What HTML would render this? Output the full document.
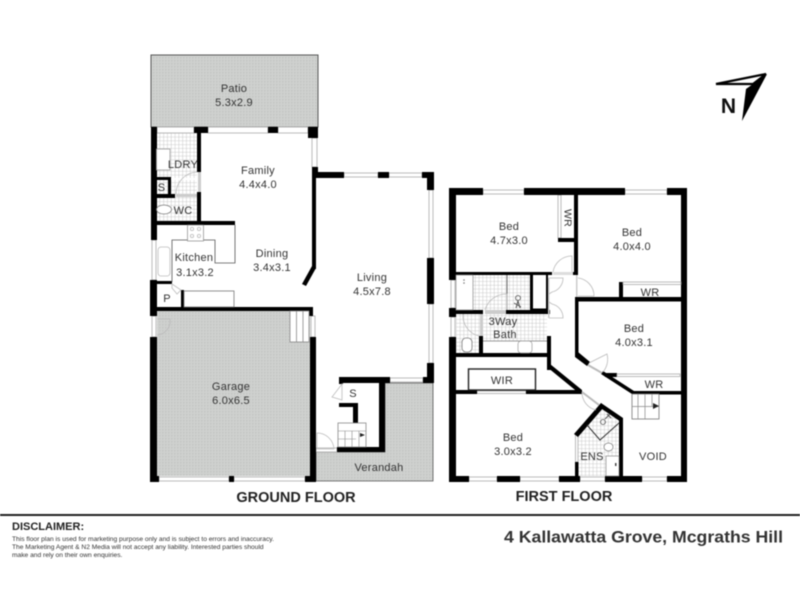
<!DOCTYPE html>
<html><head><meta charset="utf-8">
<style>
html,body{margin:0;padding:0;background:#fff}
svg{display:block;filter:blur(.45px)}
text{font-family:"Liberation Sans",sans-serif;fill:#333;font-size:11px;text-anchor:middle;letter-spacing:.25px}
.b{font-weight:bold;letter-spacing:0}
.w{fill:#000;stroke:none}
.l{fill:none;stroke:#555;stroke-width:.8}
.k{fill:none;stroke:#222;stroke-width:1.4}
.win{fill:#fff;stroke:#aaa;stroke-width:.8}
.d{fill:none;stroke:#bbb;stroke-width:.8}
</style></head><body>
<svg width="800" height="600" viewBox="0 0 800 600" xmlns="http://www.w3.org/2000/svg">
<defs>
<pattern id="g" width="3" height="3" patternUnits="userSpaceOnUse"><rect width="3" height="3" fill="#cfd1cf"/><rect width="1.5" height="1.5" fill="#c2c4c2"/></pattern>
<pattern id="t" width="3.8" height="3.8" patternUnits="userSpaceOnUse"><rect width="3.8" height="3.8" fill="#fff"/><path d="M0 0H3.8M0 0V3.8" stroke="#bdbdbd" stroke-width=".8"/></pattern>
</defs>
<rect width="800" height="600" fill="#fff"/>

<!-- GROUND FLOOR floors -->
<rect x="151" y="55" width="167" height="72" fill="url(#g)" stroke="#555" stroke-width="1"/>
<rect x="157" y="311" width="153" height="165" fill="url(#g)"/>
<path d="M316 452H385V383H433V481H316Z" fill="url(#g)" stroke="#555" stroke-width=".8"/>
<rect x="157" y="133" width="40" height="45" fill="url(#t)"/>
<rect x="157" y="180" width="40" height="42" fill="url(#t)"/>

<!-- ground windows -->
<rect x="157" y="127" width="37" height="6" class="win"/>
<rect x="208" y="127" width="60" height="6" class="win"/>
<rect x="278" y="127" width="30" height="6" class="win"/>
<rect x="312" y="138" width="5" height="29" class="win"/>
<rect x="344" y="173" width="34" height="4" class="win"/>
<rect x="389" y="173" width="33" height="4" class="win"/>
<rect x="429" y="190" width="4" height="68" class="win"/>
<rect x="429" y="304" width="4" height="59" class="win"/>
<rect x="152" y="240" width="4" height="40" class="win"/>
<rect x="152" y="316" width="4" height="21" class="win"/>
<rect x="311" y="316" width="4" height="21" class="win"/>
<rect x="390" y="378" width="33" height="4" class="win"/>
<rect x="159" y="477" width="70" height="4" class="win"/>
<rect x="234" y="477" width="71" height="4" class="win"/>
<rect x="316" y="448" width="21" height="4" class="win"/>
<rect x="198" y="172" width="3" height="20" fill="#ccc"/>
<rect x="176" y="194" width="21" height="3" fill="#ccc"/>

<!-- ground walls -->
<g class="w">
<rect x="151" y="127" width="6" height="113"/>
<rect x="150" y="280" width="7" height="36"/>
<rect x="150" y="337" width="7" height="145"/>
<rect x="194" y="127" width="14" height="6"/>
<rect x="268" y="127" width="10" height="6"/>
<rect x="308" y="127" width="10" height="11"/>
<rect x="197" y="133" width="4" height="39"/>
<rect x="197" y="192" width="4" height="30"/>
<rect x="312" y="167" width="6" height="11"/>
<rect x="312" y="172" width="32" height="6"/>
<rect x="378" y="172" width="11" height="6"/>
<rect x="422" y="172" width="12" height="6"/>
<rect x="427" y="172" width="7" height="18"/>
<rect x="427" y="258" width="7" height="46"/>
<rect x="427" y="363" width="7" height="20"/>
<rect x="423" y="377" width="11" height="6"/>
<rect x="312" y="178" width="4" height="91"/>
<path d="M312 266L316 268L306 286L302 284Z"/>
<rect x="157" y="177" width="14" height="3"/>
<rect x="168" y="177" width="3" height="20"/>
<rect x="157" y="194" width="18" height="4"/>
<rect x="157" y="221" width="78" height="4"/>
<rect x="150" y="281" width="22" height="3"/>
<rect x="181" y="290" width="3" height="17"/>
<rect x="150" y="307" width="163" height="4"/>
<rect x="309" y="307" width="4" height="9"/>
<rect x="310" y="337" width="6" height="145"/>
<rect x="150" y="476" width="9" height="6"/>
<rect x="229" y="476" width="5" height="6"/>
<rect x="305" y="476" width="11" height="6"/>
<rect x="339" y="377" width="51" height="6"/>
<rect x="339" y="377" width="4" height="7"/>
<rect x="379" y="377" width="6" height="75"/>
<rect x="337" y="447" width="48" height="5"/>
<rect x="312" y="447" width="4" height="5"/>
<rect x="339" y="403" width="19" height="4"/>
<rect x="353" y="403" width="5" height="20"/>
</g>

<!-- kitchen fittings -->
<path class="l" d="M235 225V263H215V240H172V282"/>
<rect x="187.500" y="225" width="16" height="16" fill="#fff" stroke="#888" stroke-width=".7"/>
<circle cx="192" cy="229" r="1.6" class="d"/><circle cx="199" cy="229" r="1.6" class="d"/><circle cx="192" cy="236" r="1.6" class="d"/><circle cx="199" cy="236" r="1.6" class="d"/>
<rect x="158" y="247" width="12" height="29" rx="3" class="d" fill="#fff"/>
<rect x="184" y="291" width="50" height="16" fill="#fff" stroke="#777" stroke-width=".8"/>
<path class="d" d="M172 284L181 290L177 294L172 288Z"/>
<rect x="156.500" y="149" width="13.500" height="21" fill="#fff" stroke="#999" stroke-width=".8"/>
<ellipse cx="164" cy="209.500" rx="7.500" ry="4.500" fill="#fff" stroke="#777" stroke-width=".8"/>
<path class="d" d="M197 172A22 22 0 0 0 176 194"/>
<path class="d" stroke="#eee" d="M157 319H170A14 14 0 0 1 157 335"/>

<!-- garage steps, ground stairs -->
<rect x="290" y="311" width="19" height="31" fill="#fff" stroke="#888" stroke-width=".8"/>
<path d="M296.500 311V342M303 311V342" stroke="#888" stroke-width=".8"/>
<rect x="338" y="423" width="28" height="24" fill="#fff" stroke="#888" stroke-width=".8"/>
<path d="M338 431H366M338 439H356M345 431V447M352 431V447M359 431V447" stroke="#888" stroke-width=".6" fill="none"/>
<path d="M360 433L365 435L360 437Z" fill="#222"/>
<path class="d" d="M342 384L332 397L342 400V384Z"/>
<path class="d" stroke="#999" d="M317 433A17 17 0 0 1 334 449H317Z"/>

<!-- FIRST FLOOR floors -->
<rect x="473" y="275" width="58" height="35" fill="url(#t)"/>
<rect x="456" y="314" width="91" height="27" fill="url(#t)"/>
<rect x="456" y="340" width="23" height="13" fill="url(#t)"/>
<path d="M600 407L620 421V476H578V436Z" fill="url(#t)"/>

<!-- first windows -->
<rect x="483" y="190" width="41" height="4" class="win"/>
<rect x="625" y="190" width="42" height="4" class="win"/>
<rect x="451" y="280" width="4" height="28" class="win"/>
<rect x="451" y="317" width="4" height="20" class="win"/>
<rect x="558" y="195" width="3" height="43" class="win"/>
<rect x="477" y="391" width="49" height="2.500" class="win"/>
<rect x="469" y="477" width="28" height="4" class="win"/>
<rect x="520" y="477" width="39" height="4" class="win"/>
<rect x="580" y="477" width="25" height="4" class="win"/>
<rect x="642" y="477" width="25" height="4" class="win"/>
<rect x="575.500" y="435" width="2.500" height="27" class="win"/>

<!-- first walls -->
<g class="w">
<rect x="449" y="188" width="34" height="7"/>
<rect x="524" y="188" width="101" height="7"/>
<rect x="667" y="188" width="20" height="7"/>
<rect x="449" y="188" width="7" height="92"/>
<rect x="449" y="308" width="7" height="9"/>
<rect x="449" y="337" width="7" height="145"/>
<rect x="681" y="188" width="6" height="294"/>
<rect x="449" y="476" width="20" height="6"/>
<rect x="497" y="476" width="23" height="6"/>
<rect x="559" y="476" width="21" height="6"/>
<rect x="605" y="476" width="37" height="6"/>
<rect x="667" y="476" width="20" height="6"/>
<rect x="574" y="195" width="4" height="78"/>
<rect x="558" y="238" width="18" height="4"/>
<rect x="456" y="272" width="96" height="3"/>
<rect x="573" y="272" width="5" height="3"/>
<rect x="530" y="275" width="3" height="35"/>
<rect x="546" y="275" width="2" height="39"/>
<rect x="449" y="310" width="34" height="4"/>
<rect x="506" y="310" width="44" height="4"/>
<rect x="479" y="336" width="4" height="21"/>
<rect x="547" y="336" width="4" height="34"/>
<rect x="449" y="353" width="102" height="4"/>
<rect x="575" y="297" width="3.500" height="58"/>
<rect x="578" y="297" width="103" height="4.500"/>
<rect x="619" y="282" width="4" height="17"/>
<path d="M547 367L550 364L582 390L580 394Z"/>
<path d="M575 352L578 352L590 362L587 366L575 357Z"/>
<path d="M603 371L634 391L632 394L601 374Z"/>
<rect x="605" y="373" width="12" height="4"/>
<rect x="632" y="391" width="55" height="3.500"/>
<rect x="449" y="390" width="28" height="4"/>
<rect x="526" y="390" width="56" height="4"/>
<path d="M601 403L604 407L578 437L574 434Z"/>
<path d="M601 403L623 418L621 422L599 407Z"/>
<rect x="619" y="418" width="4" height="64"/>
<rect x="575" y="462" width="3.500" height="14"/>
</g>

<!-- WR bed 2 window and bed 3 WR window -->
<rect x="623" y="282" width="58" height="2.500" class="win"/>
<rect x="617" y="374" width="63" height="2.500" class="win"/>

<!-- first fittings -->
<rect x="456" y="275" width="17" height="35" fill="#fff" stroke="#888" stroke-width=".7"/>
<path d="M507 275V310" stroke="#666" stroke-width="1"/>
<rect x="533" y="275" width="13" height="35" fill="#fff"/>
<path d="M533 310H546" stroke="#000" stroke-width="3"/>
<circle cx="518" cy="298" r="2.500" class="l" fill="#fff"/>
<path d="M516 308L518 301L520 308M514 303L521 307" stroke="#555" fill="none" stroke-width="1"/>
<circle cx="464" cy="280" r=".8" fill="#777"/><circle cx="464" cy="283" r=".8" fill="#777"/>
<path d="M483 341H547" stroke="#777" stroke-width=".8"/>
<rect x="518" y="341" width="14" height="12" rx="3" fill="#fff" stroke="#999" stroke-width=".7"/>
<rect x="462" y="338" width="10" height="14" rx="4" fill="#fff" stroke="#777" stroke-width=".8"/>
<rect x="480" y="314" width="3" height="22" fill="#ccc"/>
<rect x="485" y="310" width="21" height="4" fill="#ccc"/>
<path class="d" d="M485 310A22 22 0 0 1 507 294V310M463 314A21 21 0 0 0 479 336"/>
<rect x="553" y="272" width="20" height="3" fill="#ddd"/>
<path class="d" d="M553 272A19 19 0 0 1 572 256V272"/>
<rect x="548" y="278" width="1.500" height="40" fill="#ccc"/>
<rect x="576" y="275" width="1.500" height="22" fill="#ccc"/>
<path class="d" d="M549 278H563A14 14 0 0 1 552 292L549 294M549 318H563A14 14 0 0 0 552 304L549 302"/>
<path class="d" d="M578 278A18 18 0 0 1 594 296H578"/>
<path class="d" stroke="#999" d="M589 363L607 354A20 20 0 0 1 603 372"/>
<path stroke="#bbb" stroke-width="2" d="M588 365L602 373M582 392L599 405" fill="none"/>
<path class="d" stroke="#999" d="M582 392A18 18 0 0 0 596 410"/>
<path fill="none" stroke="#333" stroke-width="1" d="M587 425L600 440L619 423"/>
<circle cx="603" cy="422" r="2.500" class="l" fill="#fff"/>
<path d="M605 419L610 414M607 414L611 418" stroke="#555" fill="none" stroke-width="1"/>
<ellipse cx="608.500" cy="447" rx="4.500" ry="4" fill="#fff" stroke="#777" stroke-width=".7"/>
<rect x="606" y="456" width="13" height="20" fill="#fff" stroke="#888" stroke-width=".7"/>
<rect x="615" y="463" width="1.500" height="3" fill="#444"/>
<rect x="468.500" y="369" width="67" height="21" fill="#fff" class="k"/>
<rect x="632" y="394" width="27" height="25" fill="#fff" stroke="#777" stroke-width=".8"/>
<path d="M632 406.500H659M638 394V419M645 394V419M652 394V406" fill="none" stroke="#888" stroke-width=".7"/>
<path d="M653 403L659 406L653 409Z" fill="#222"/>

<!-- labels ground -->
<text x="234" y="92">Patio</text><text x="234" y="106">5.3x2.9</text>
<text x="258" y="174">Family</text><text x="258" y="188">4.4x4.0</text>
<text x="183" y="168">LDRY</text>
<text x="161.500" y="191">S</text>
<text x="183" y="214">WC</text>
<text x="194" y="261">Kitchen</text><text x="195" y="276">3.1x3.2</text>
<text x="272" y="257">Dining</text><text x="272" y="271">3.4x3.1</text>
<text x="372" y="281">Living</text><text x="372" y="295">4.5x7.8</text>
<text x="167" y="302">P</text>
<text x="231" y="390">Garage</text><text x="231" y="404">6.0x6.5</text>
<text x="353" y="397">S</text>
<text x="379" y="471">Verandah</text>
<text x="296" y="502" class="b" style="font-size:14.500px;fill:#222">GROUND FLOOR</text>

<!-- labels first -->
<text x="509" y="230">Bed</text><text x="509" y="244">4.7x3.0</text>
<text x="632" y="236">Bed</text><text x="632" y="250">4.0x4.0</text>
<text x="650" y="296">WR</text>
<text x="634" y="332">Bed</text><text x="634" y="346">4.0x3.1</text>
<text x="503" y="325">3Way</text><text x="505" y="338">Bath</text>
<text x="502" y="384">WIR</text>
<text x="654" y="388">WR</text>
<text x="513" y="441">Bed</text><text x="513" y="455">3.0x3.2</text>
<text x="592" y="460">ENS</text>
<text x="653" y="460">VOID</text>
<text transform="translate(564.500,218) rotate(90)" style="font-size:10.500px">WR</text>
<text x="564" y="501" class="b" style="font-size:14.500px;fill:#222">FIRST FLOOR</text>

<!-- north -->
<path d="M766 74L716 84L753 84Z" fill="#fff" stroke="#000" stroke-width="2.200" stroke-linejoin="miter"/>
<path d="M767 74L742 121L746 89L753 84Z" fill="#000"/>
<text x="728.500" y="113" class="b" style="font-size:21px;fill:#111">N</text>

<!-- footer -->
<rect x="0" y="514" width="800" height="2" fill="#222"/>
<text x="12" y="530" class="b" style="font-size:11px;text-anchor:start;fill:#222;">DISCLAIMER:</text>
<text x="12" y="541" style="font-size:6.650px;text-anchor:start;letter-spacing:0;">This floor plan is used for marketing purpose only and is subject to errors and inaccuracy.</text>
<text x="12" y="549" style="font-size:6.650px;text-anchor:start;letter-spacing:0;">The Marketing Agent &amp; N2 Media will not accept any liability. Interested parties should</text>
<text x="12" y="557" style="font-size:6.650px;text-anchor:start;letter-spacing:0;">make and rely on their own enquiries.</text>
<text x="504" y="542.500" class="b" textLength="279" lengthAdjust="spacingAndGlyphs" style="font-size:16.500px;text-anchor:start;fill:#333;">4 Kallawatta Grove, Mcgraths Hill</text>
</svg>
</body></html>
